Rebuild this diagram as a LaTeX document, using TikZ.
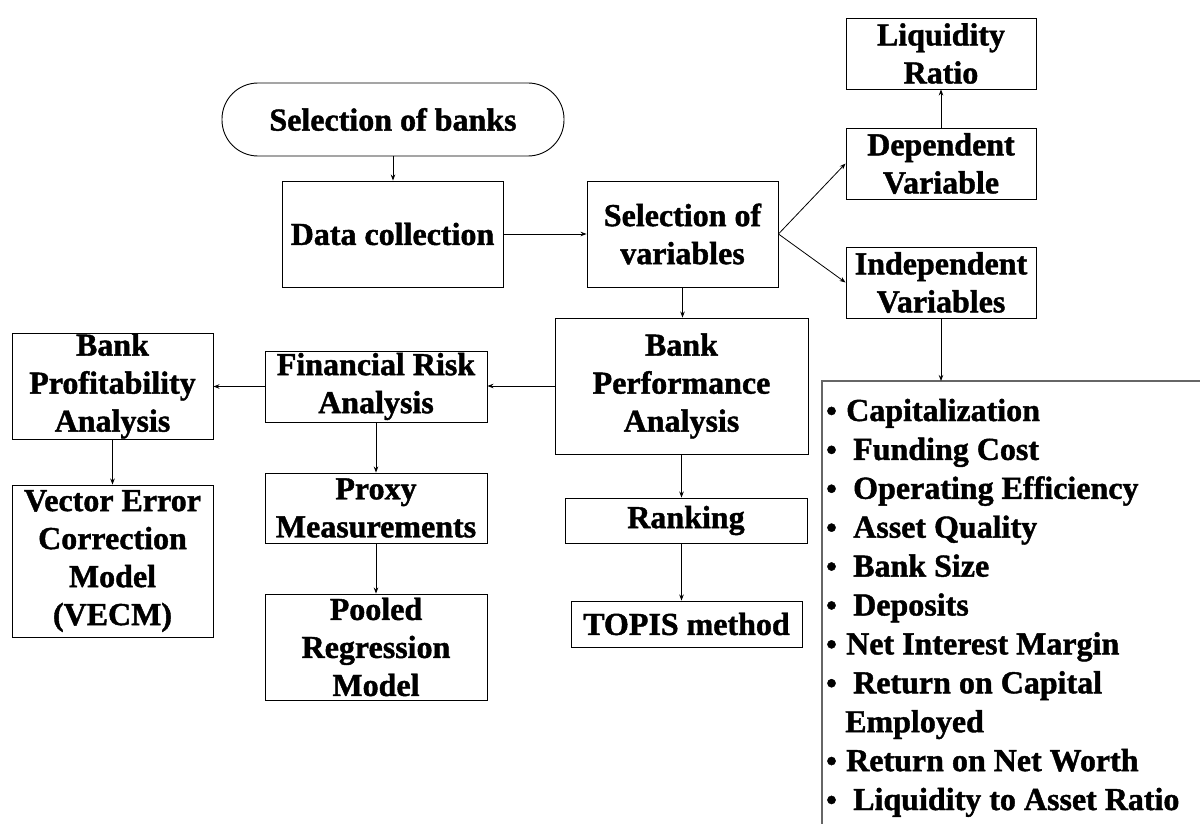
\documentclass[tikz,border=0pt]{standalone}
\usepackage{fontspec}
\setmainfont{Liberation Serif}[BoldFeatures={FakeBold=1.3}]
\usetikzlibrary{arrows.meta}
\newcommand\boxfont{\fontsize{32}{38}\selectfont\bfseries}
\newcommand\bul{\makebox[20pt][l]{\scalebox{0.95}{\textbullet}}}
\begin{document}
\begin{tikzpicture}[x=1pt,y=-1pt,
  box/.style={draw, line width=0.9pt, inner sep=0pt, align=center, font=\boxfont},
  arr/.style={-{Stealth[length=6pt,width=4.5pt]}, line width=0.8pt},
  item/.style={anchor=base west, inner sep=0pt, font=\boxfont},
  frame/.style={draw=black!60, line width=1.4pt}]
\useasboundingbox (0,0) rectangle (1200,824);

% process boxes
\node[box, minimum width=342pt, minimum height=73pt, rounded corners=36pt] (banks) at (393,119.5) {Selection of banks};
\node[box, minimum width=221pt, minimum height=106pt] (dc) at (392.5,234) {Data collection};
\node[box, minimum width=191pt, minimum height=106pt] (sv) at (682.5,234) {Selection of\\variables};
\node[box, minimum width=190pt, minimum height=71pt] (liq) at (941,53.5) {Liquidity\\Ratio};
\node[box, minimum width=190pt, minimum height=71pt] (dep) at (941,163.5) {Dependent\\Variable};
\node[box, minimum width=190pt, minimum height=71pt] (ind) at (941,282.5) {Independent\\Variables};
\node[box, minimum width=253pt, minimum height=136pt] (bpa) at (681.5,386) {Bank\\Performance\\Analysis};
\node[box, minimum width=222pt, minimum height=71pt] (fra) at (376,386.5) {Financial Risk\\Analysis};
\node[box, minimum width=201pt, minimum height=106pt] (bprof) at (112.5,386) {Bank\\Profitability\\Analysis};
\node[box, minimum width=201pt, minimum height=152pt] (vecm) at (112.5,561) {Vector Error\\Correction\\Model\\(VECM)};
\node[box, minimum width=222pt, minimum height=70pt] (proxy) at (376,508) {Proxy\\Measurements};
\node[box, minimum width=222pt, minimum height=106pt] (pooled) at (376,647) {Pooled\\Regression\\Model};
\node[box, minimum width=242pt, minimum height=45pt] (rank) at (686,520.5) {Ranking};
\node[box, minimum width=231pt, minimum height=46pt] (topis) at (686.5,624) {TOPIS method};

% open frame holding the list of independent variables
\draw[frame] (1200,381) -- (822,381) -- (822,824);
\coordinate (listtop) at (941,381);

\node[item] (l1)  at (826,421)   {\bul Capitalization};
\node[item] (l2)  at (826,459.9) {\bul\hspace{7pt}Funding Cost};
\node[item] (l3)  at (826,498.8) {\bul\hspace{7pt}Operating Efficiency};
\node[item] (l4)  at (826,537.7) {\bul\hspace{7pt}Asset Quality};
\node[item] (l5)  at (826,576.6) {\bul\hspace{7pt}Bank Size};
\node[item] (l6)  at (826,615.5) {\bul\hspace{7pt}Deposits};
\node[item] (l7)  at (826,654.4) {\bul Net Interest Margin};
\node[item] (l8)  at (826,693.3) {\bul\hspace{7pt}Return on Capital};
\node[item] (l9)  at (845,732.2) {Employed};
\node[item] (l10) at (826,771.1) {\bul Return on Net Worth};
\node[item] (l11) at (826,810)   {\bul\hspace{7pt}Liquidity to Asset Ratio};

% connectors
\draw[arr] (banks.south) -- (banks.south |- dc.north);
\draw[arr] (dc.east) -- (sv.west);
\draw[arr] (sv.east) -- (dep.west);
\draw[arr] (sv.east) -- (ind.west);
\draw[arr] (dep) -- (liq);
\draw[arr] (ind) -- (listtop);
\draw[arr] (sv.south) -- (sv.south |- bpa.north);
\draw[arr] (bpa.west) -- (bpa.west -| fra.east);
\draw[arr] (fra.west) -- (fra.west -| bprof.east);
\draw[arr] (bprof) -- (vecm);
\draw[arr] (fra) -- (proxy);
\draw[arr] (proxy) -- (pooled);
\draw[arr] (bpa.south) -- (bpa.south |- rank.north);
\draw[arr] (bpa.south |- rank.south) -- (bpa.south |- topis.north);
\end{tikzpicture}
\end{document}
